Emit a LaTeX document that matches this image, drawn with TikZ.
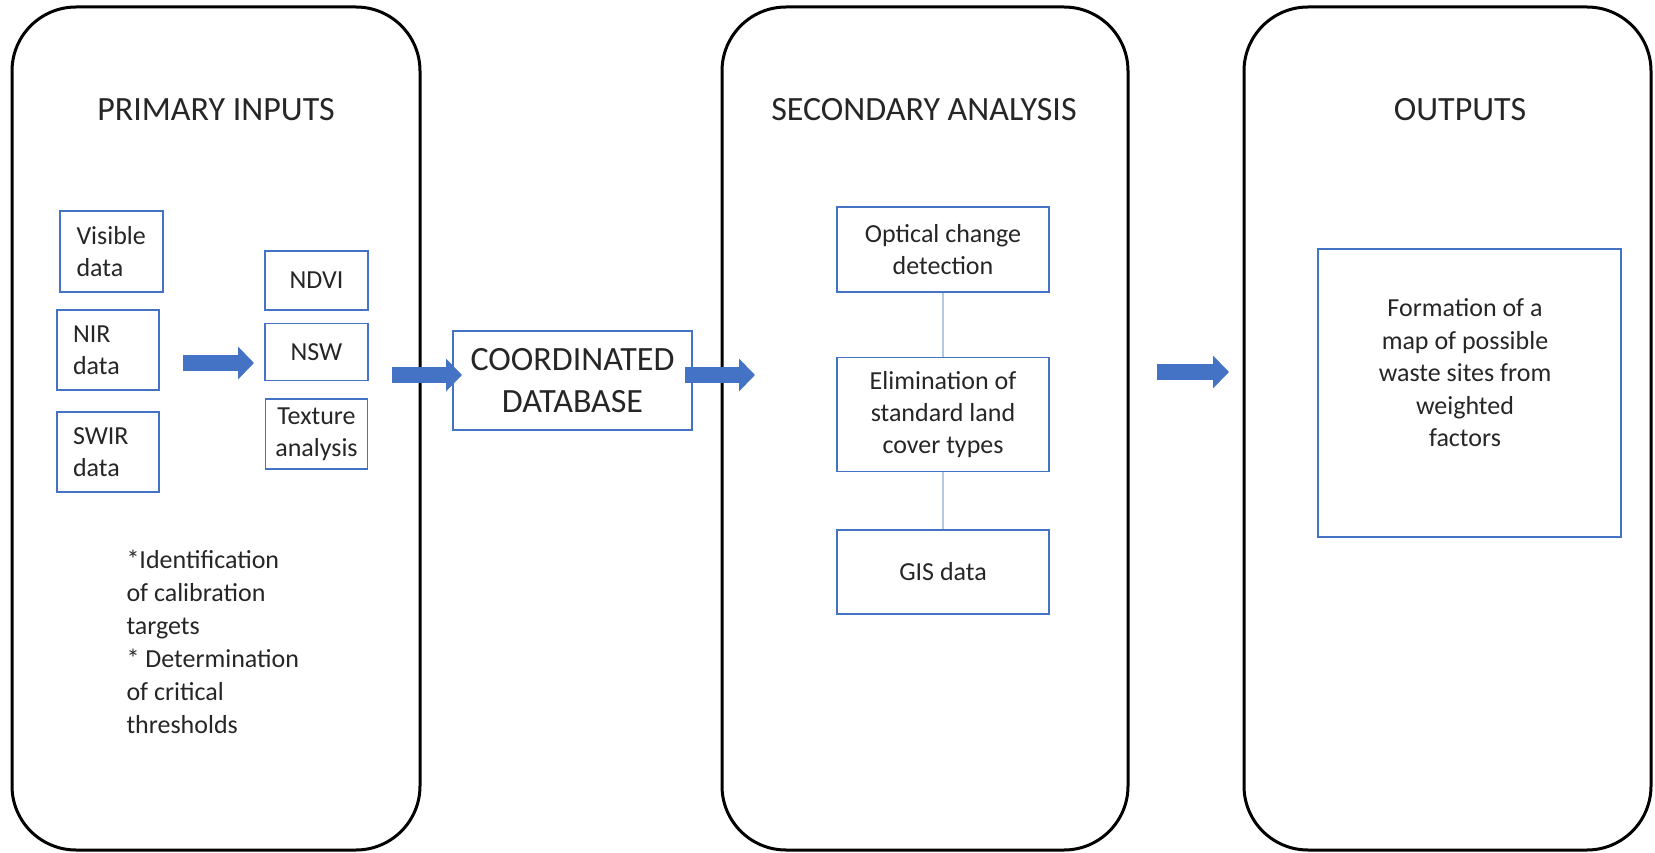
\documentclass[tikz,border=0pt]{standalone}
\usepackage{fontspec}
\setmainfont{Carlito}
\usepackage{tikz}
\usetikzlibrary{positioning,arrows.meta}

\definecolor{boxblue}{HTML}{4472C4}
\definecolor{linkblue}{HTML}{B4C7E7}
\definecolor{ink}{HTML}{262626}

\tikzset{
  panel/.style={draw=black, line width=3pt, rounded corners=64pt,
    minimum width=#1, minimum height=843pt},
  title/.style={text=ink, font=\fontsize{34pt}{41pt}\selectfont},
  databox/.style={draw=boxblue, line width=1.5pt, text=ink, align=center,
    inner sep=0pt, font=\fontsize{26pt}{32pt}\selectfont},
  leftbox/.style={databox, text width=70pt, align=left},
  bigarrow/.style={draw=boxblue, line width=16pt, -{Triangle[length=16pt,width=32pt]}},
  link/.style={draw=linkblue, line width=2pt}
}

\begin{document}
\begin{tikzpicture}[x=1pt,y=-1pt]
  \useasboundingbox (0,0) rectangle (1655,853);

  % the three stages
  \node[panel=408pt] (p1) at (216,428.5) {};
  \node[panel=406pt] (p2) at (925,428.5) {};
  \node[panel=407pt] (p3) at (1447.5,428.5) {};
  \node[title] (t1) at (216,110) {PRIMARY INPUTS};
  \node[title] (t2) at (924,110) {SECONDARY ANALYSIS};
  \node[title] (t3) at (1460,110) {OUTPUTS};

  % primary inputs
  \node[leftbox, minimum width=103pt, minimum height=81pt] (visible) at (111.5,251.5) {Visible\\data};
  \node[leftbox, minimum width=102pt, minimum height=80pt] (nir) at (108,350) {NIR\\data};
  \node[leftbox, minimum width=102pt, minimum height=80pt] (swir) at (108,452) {SWIR\\data};
  \node[databox, minimum width=103pt, minimum height=59pt] (ndvi) at (316.5,280.5) {NDVI};
  \node[databox, minimum width=103pt, minimum height=57pt] (nsw) [below=12pt of ndvi] {NSW};
  \node[databox, minimum width=102pt, minimum height=70pt] (texture) [below=17pt of nsw] {Texture\\analysis};
  \node[anchor=west, align=left, text=ink, font=\fontsize{26pt}{33pt}\selectfont] (notes) at (123,642)
    {*Identification\\of calibration\\targets\\* Determination\\of critical\\thresholds};

  % database
  \node[databox, minimum width=239pt, minimum height=99pt, font=\fontsize{34pt}{42pt}\selectfont]
    (db) at (572.5,380.5) {COORDINATED\\DATABASE};

  % secondary analysis
  \node[databox, minimum width=212pt, minimum height=85pt] (optical) at (943,249.5) {Optical change\\detection};
  \node[databox, minimum width=212pt, minimum height=114pt] (elim) [below=64pt of optical] {Elimination of\\standard land\\cover types};
  \node[databox, minimum width=212pt, minimum height=84pt] (gis) [below=57pt of elim] {GIS data};
  \path[link] (optical) edge (elim)
              (elim) edge (gis);

  % outputs
  \node[databox, minimum width=303pt, minimum height=288pt] (outbox) at (1469.5,393) {};
  \node[text=ink, align=center, font=\fontsize{26pt}{32.5pt}\selectfont] (outtext) at (1465,373)
    {Formation of a\\map of possible\\waste sites from\\weighted\\factors};

  % block arrows
  \coordinate (a1s) at (183,363);
  \coordinate (a1e) at (254,363);
  \coordinate (a2s) at (392,375);
  \coordinate (a2e) at (462,375);
  \coordinate (a3s) at (685,375);
  \coordinate (a3e) at (755,375);
  \coordinate (a4s) at (1157,372);
  \coordinate (a4e) at (1229,372);
  \draw[bigarrow] (a1s) -- (a1e);
  \draw[bigarrow] (a2s) -- (a2e);
  \draw[bigarrow] (a3s) -- (a3e);
  \draw[bigarrow] (a4s) -- (a4e);
\end{tikzpicture}
\end{document}
